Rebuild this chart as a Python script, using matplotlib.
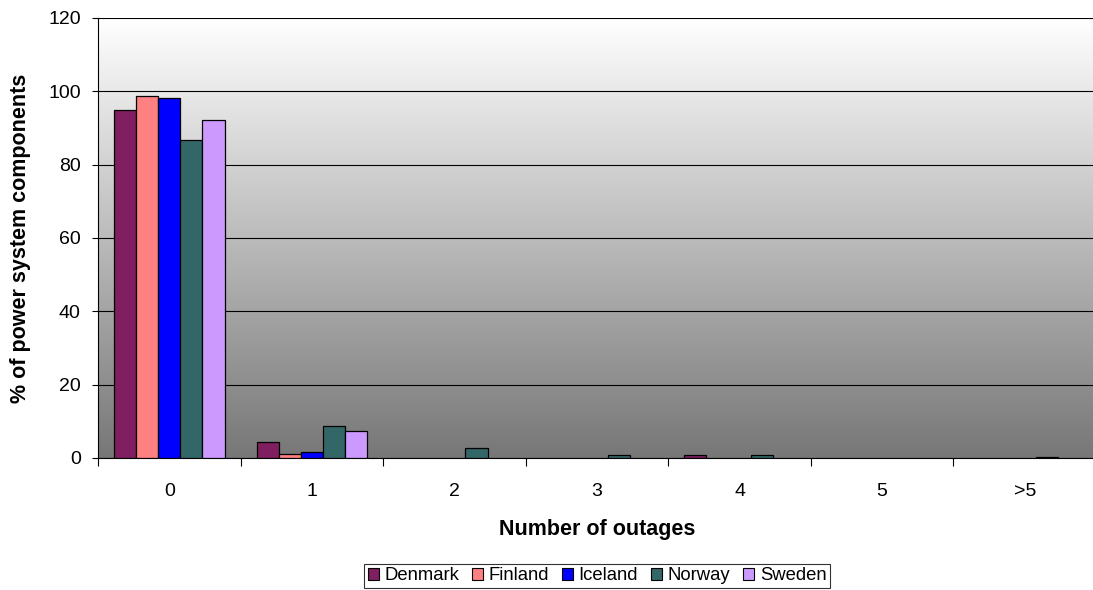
import numpy as np
import matplotlib
matplotlib.use("Agg")
import matplotlib.pyplot as plt
from matplotlib.patches import Rectangle

plt.rcParams['font.family'] = ['Liberation Sans', 'DejaVu Sans']

categories = ["0", "1", "2", "3", "4", "5", ">5"]
countries = ["Denmark", "Finland", "Iceland", "Norway", "Sweden"]
denmark = [95.0, 4.4, 0.0, 0.0, 0.7, 0.0, 0.0]
finland = [98.8, 1.0, 0.0, 0.0, 0.0, 0.0, 0.0]
iceland = [98.3, 1.6, 0.0, 0.0, 0.0, 0.0, 0.0]
norway = [86.8, 8.8, 2.8, 0.7, 0.7, 0.0, 0.4]
sweden = [92.2, 7.5, 0.0, 0.0, 0.0, 0.0, 0.0]
series = [denmark, finland, iceland, norway, sweden]
colors = ["#7F1F5F", "#FF8080", "#0000FF", "#336666", "#CC99FF"]
yticks = [0, 20, 40, 60, 80, 100, 120]

fig = plt.figure(figsize=(10.93, 5.90), dpi=100)
ax = fig.add_axes([98/1093, 1 - 458/590, (1096 - 98)/1093, (458 - 18)/590])

# gradient background
grad = np.linspace(1, 0, 256).reshape(-1, 1)
top = np.array([1.0, 1.0, 1.0])
bot = np.array([0x77, 0x77, 0x77]) / 255
img = (grad[..., None] * top + (1 - grad[..., None]) * bot)
ax.imshow(img, extent=[-0.5, len(categories) - 0.5, 0, 120], aspect='auto', zorder=0)

x = np.arange(len(categories))
w = 0.155
for i, (s, c, name) in enumerate(zip(series, colors, countries)):
    offs = (i - 2) * w
    vals = np.array(s)
    mask = vals > 0
    ax.bar(x[mask] + offs, vals[mask], width=w, color=c, edgecolor='black',
           linewidth=0.9, zorder=3, label=name)

ax.set_xlim(-0.5, len(categories) - 0.5)
ax.set_ylim(0, 120)
ax.set_yticks(yticks)
ax.set_yticklabels([str(t) for t in yticks], fontsize=14)
ax.yaxis.grid(True, color='black', linewidth=0.8, zorder=1)
ax.set_axisbelow(False)
ax.set_xticks(x)
ax.set_xticklabels(categories, fontsize=14)
ax.tick_params(axis='x', length=0, pad=18)
ax.set_xticks(np.arange(len(categories) + 1) - 0.5, minor=True)
ax.tick_params(axis='x', which='minor', length=6, width=0.8, direction='out')
ax.tick_params(axis='y', length=4.5, width=0.8, direction='out', pad=8)
for sp in ['top', 'right']:
    ax.spines[sp].set_visible(False)
ax.spines['left'].set_linewidth(0.8)
ax.spines['bottom'].set_linewidth(0.8)

ax.set_xlabel("Number of outages", fontsize=15.5, fontweight='bold', labelpad=14)
ax.set_ylabel("% of power system components", fontsize=15.5, fontweight='bold', labelpad=12)

handles = [Rectangle((0, 0), 1, 1, facecolor=c, edgecolor='black', linewidth=0.8) for c in colors]
leg = fig.legend(handles, countries, loc='center', bbox_to_anchor=(597/1093, 1 - 576/590),
                 ncol=5, fontsize=13.3, frameon=True, fancybox=False, edgecolor='black',
                 handlelength=0.6, handleheight=0.6, handletextpad=0.3, columnspacing=0.7,
                 borderpad=0.2)
leg.get_frame().set_linewidth(0.8)

fig.savefig("out.png", dpi=100)
